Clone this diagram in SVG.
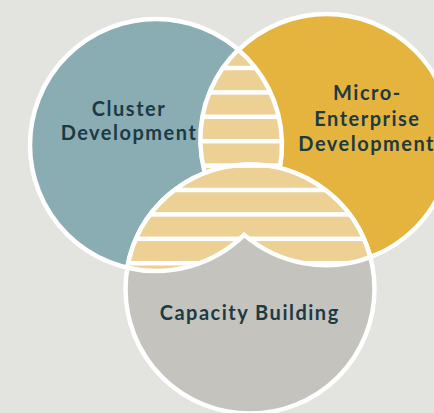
<svg xmlns="http://www.w3.org/2000/svg" width="434" height="413" viewBox="0 0 434 413">
  <style>
    .ring { stroke: #ffffff; stroke-width: 4.5; }
    .lbl { font-family: Lato, "Liberation Sans", sans-serif; font-weight: 700; font-size: 20px; letter-spacing: 1.5px; fill: #1d3a44; text-anchor: middle; }
    .stripe { fill: #ffffff; }
  </style>
  <defs>
    <path id="lensTop" d="M238.3,49.6 A126,126 0 0 1 244.2,234.9 A125.5,125.5 0 0 1 238.3,49.6 Z"/>
    <path id="lensBottom" d="M127.3,267.7 A124.5,124.5 0 0 1 370.3,257.1 A125.5,125.5 0 0 1 244.2,234.9 A126,126 0 0 1 127.3,267.7 Z"/>
    <clipPath id="clipTop"><use href="#lensTop"/></clipPath>
    <clipPath id="clipBottom"><use href="#lensBottom"/></clipPath>
    <g id="stripes">
      <rect class="stripe" x="100" y="65.75" width="300" height="4.5"/>
      <rect class="stripe" x="100" y="90.15" width="300" height="4.5"/>
      <rect class="stripe" x="100" y="114.55" width="300" height="4.5"/>
      <rect class="stripe" x="100" y="138.95" width="300" height="4.5"/>
      <rect class="stripe" x="100" y="163.35" width="300" height="4.5"/>
      <rect class="stripe" x="100" y="187.75" width="300" height="4.5"/>
      <rect class="stripe" x="100" y="212.15" width="300" height="4.5"/>
      <rect class="stripe" x="100" y="236.55" width="300" height="4.5"/>
      <rect class="stripe" x="100" y="260.95" width="300" height="4.5"/>
    </g>
  </defs>
  <rect x="0" y="0" width="434" height="413" fill="#e3e3df"/>

  <g id="cluster-development">
    <circle class="ring" cx="156" cy="145" r="126" fill="#8aadb4"/>
  </g>
  <g id="micro-enterprise-development">
    <circle class="ring" cx="326.5" cy="139.5" r="125.5" fill="#e4b43e"/>
  </g>
  <g id="overlap-top">
    <use href="#lensTop" fill="#edd194"/>
    <use href="#stripes" clip-path="url(#clipTop)"/>
    <use href="#lensTop" class="ring" fill="none"/>
  </g>
  <g id="capacity-building">
    <circle class="ring" cx="250" cy="289" r="124.5" fill="#c4c3be"/>
  </g>
  <g id="overlap-bottom">
    <use href="#lensBottom" fill="#edd194"/>
    <use href="#stripes" clip-path="url(#clipBottom)"/>
    <use href="#lensBottom" class="ring" fill="none"/>
  </g>

  <g id="labels">
    <text class="lbl" x="129" y="116">Cluster</text>
    <text class="lbl" x="129" y="140">Development</text>
    <text class="lbl" x="367.4" y="100">Micro-</text>
    <text class="lbl" x="367.4" y="126">Enterprise</text>
    <text class="lbl" x="366.7" y="151">Development</text>
    <text class="lbl" x="249.7" y="319.5">Capacity Building</text>
  </g>
  <g id="connectors"/>
</svg>
